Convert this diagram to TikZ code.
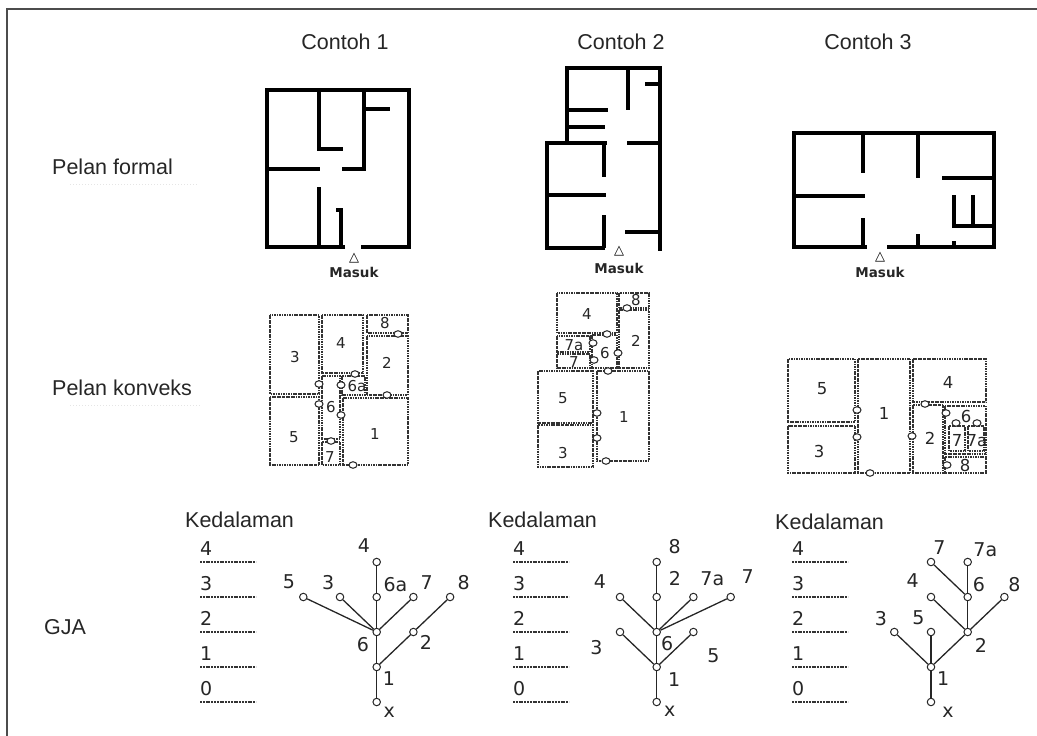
\documentclass[tikz,border=0pt]{standalone}
\usepackage{fontspec}
\setmainfont{Liberation Sans}
\newfontfamily\vfont{DejaVu Sans}
\usetikzlibrary{positioning}
\usetikzlibrary{shapes.geometric}
\tikzset {
  frame/.style = {
    draw = black!70,
    line width = 1.5pt
  },
  ghost/.style = {
    draw = black!10,
    line width = 1pt,
    dotted
  },
  % heading and row texts
  head/.style = {
    text = black!85,
    inner sep = 0,
    font = \fontsize{21.5}{26}\selectfont
  },
  % wall of a formal plan
  wall/.style = {
    draw = black,
    line width = 4pt,
    line join = miter
  },
  entry/.style = {
    inner sep = 0,
    font = \vfont\bfseries\fontsize{13}{13}\selectfont
  },
  masuk/.style = {
    inner sep = 0,
    text = black!85,
    font = \vfont\bfseries\fontsize{13.5}{15}\selectfont
  }
}
\tikzset {
  % convex space
  zone/.style = {
    draw = black!80,
    line width = 1.3pt,
    dash pattern = on 2.5pt off 0.8pt on 1pt off 0.8pt
  },
  zlabel/.style = {
    inner sep = 0,
    text = black!85,
    font = \vfont\fontsize{15}{15}\selectfont
  },
  zlabelbig/.style = {
    zlabel,
    font = \vfont\fontsize{16.5}{17}\selectfont
  },
  % opening between two spaces
  door/.style = {
    draw = black!85,
    fill = white,
    ellipse,
    line width = 1pt,
    minimum width = 8pt,
    minimum height = 6.5pt,
    inner sep = 0
  }
}
\tikzset {
  % justified graph
  gnode/.style = {
    draw = black!85,
    fill = white,
    circle,
    line width = 1pt,
    minimum size = 7.5pt,
    inner sep = 0
  },
  glabel/.style = {
    inner sep = 0,
    text = black!85,
    font = \vfont\fontsize{19}{19}\selectfont
  },
  edge/.style = {
    draw = black!85,
    line width = 1.3pt
  },
  dlabel/.style = {
    glabel
  },
  dline/.style = {
    draw = black!80,
    line width = 2pt,
    dash pattern = on 2pt off 0.8pt
  }
}

\begin{document}
\begin{tikzpicture}[x = 1pt, y = -1pt, node distance = 35pt and 36.7pt, on grid]
  \useasboundingbox (0,0) rectangle (1037,736);
  \draw[frame] (7,736) -- (7,9) -- (1037,9);

  \node[head] (h1) at (345,42) {Contoh 1};
  \node[head] (h2) at (621,42) {Contoh 2};
  \node[head] (h3) at (868,42) {Contoh 3};

  \node[head, anchor = west] (rformal) at (52,167) {Pelan formal};
  \node[head, anchor = west] (rkonveks) at (52,388) {Pelan konveks};
  \node[head, anchor = west] (rgja) at (44,627) {GJA};
  \draw[ghost] (70,184) -- (197,184);
  \draw[ghost] (70,405) -- (200,405);

  % formal plans
  \draw[wall] (345,247) -- (267,247) -- (267,90) -- (409,90) -- (409,247) -- (361,247);
  \draw[wall] (319,90) -- (319,149) -- (343,149);
  \draw[wall] (364,90) -- (364,169) -- (342,169);
  \draw[wall] (364,109) -- (390,109);
  \draw[wall] (267,169) -- (320,169);
  \draw[wall] (319,187) -- (319,247);
  \draw[wall] (336,210) -- (341,210) -- (341,247);
  \node[entry] (f1tri) at (354,258) {△};
  \node[masuk, below = 14pt of f1tri] (f1in) {Masuk};

  \draw[wall] (605,248) -- (547,248) -- (547,143) -- (607,143);
  \draw[wall] (627,143) -- (660,143);
  \draw[wall] (567,143) -- (567,68) -- (660,68) -- (660,251);
  \draw[wall] (604,143) -- (604,177);
  \draw[wall] (547,195) -- (606,195);
  \draw[wall] (604,215) -- (604,248);
  \draw[wall] (625,232) -- (660,232);
  \draw[wall] (628,68) -- (628,110);
  \draw[wall] (645,84) -- (660,84);
  \draw[wall] (567,110) -- (608,110);
  \draw[wall] (567,127) -- (605,127);
  \node[entry] (f2tri) at (619,251) {△};
  \node[masuk, below = 17pt of f2tri] (f2in) {Masuk};

  \draw[wall] (867,247) -- (794,247) -- (794,133) -- (994,133) -- (994,247) -- (887,247);
  \draw[wall] (863,133) -- (863,173);
  \draw[wall] (794,196) -- (865,196);
  \draw[wall] (863,218) -- (863,247);
  \draw[wall] (918,133) -- (918,178);
  \draw[wall] (918,234) -- (918,247);
  \draw[wall] (942,178) -- (994,178);
  \draw[wall] (954,195) -- (954,226) -- (994,226);
  \draw[wall] (973,195) -- (973,226);
  \draw[wall] (954,241) -- (954,247);
  \node[entry] (f3tri) at (880,257) {△};
  \node[masuk, below = 15pt of f3tri] (f3in) {Masuk};

  % convex plans
  \draw[zone] (270,315) rectangle (319,394);
  \draw[zone] (322,315) rectangle (363,373);
  \draw[zone] (367,315) rectangle (408,333);
  \draw[zone] (367,336) rectangle (408,395);
  \draw[zone] (342,376) rectangle (365,395);
  \draw[zone] (322,376) rectangle (340,439);
  \draw[zone] (322,442) rectangle (340,465);
  \draw[zone] (270,397) rectangle (319,465);
  \draw[zone] (343,398) rectangle (408,465);
  \node[zlabel] (c1s3) at (295,357) {3};
  \node[zlabel] (c1s4) at (341,343) {4};
  \node[zlabel] (c1s8) at (385,323) {8};
  \node[zlabel] (c1s2) at (387,363) {2};
  \node[zlabel] (c1s6a) at (357,386) {6a};
  \node[zlabel] (c1s6) at (331,407) {6};
  \node[zlabel] (c1s7) at (330,457) {7};
  \node[zlabel] (c1s5) at (294,437) {5};
  \node[zlabel] (c1s1) at (375,434) {1};
  \node[door] (c1d1) at (319,384) {};
  \node[door] (c1d2) at (319,404) {};
  \node[door] (c1d3) at (341,385) {};
  \node[door] (c1d4) at (355,374) {};
  \node[door] (c1d5) at (341,415) {};
  \node[door] (c1d6) at (387,395) {};
  \node[door] (c1d7) at (398,334) {};
  \node[door] (c1d8) at (331,441) {};
  \node[door] (c1d9) at (353,465) {};

  \draw[zone] (557,293) rectangle (617,333);
  \draw[zone] (619,293) rectangle (649,308);
  \draw[zone] (619,310) rectangle (649,368);
  \draw[zone] (557,336) rectangle (590,352);
  \draw[zone] (557,354) rectangle (590,368);
  \draw[zone] (592,335) rectangle (617,368);
  \draw[zone] (538,371) rectangle (593,423);
  \draw[zone] (538,425) rectangle (593,467);
  \draw[zone] (597,371) rectangle (649,461);
  \node[zlabel] (c2s4) at (587,314) {4};
  \node[zlabel] (c2s8) at (636,300) {8};
  \node[zlabel] (c2s2) at (636,341) {2};
  \node[zlabel] (c2s7a) at (574,345) {7a};
  \node[zlabel] (c2s7) at (574,362) {7};
  \node[zlabel] (c2s6) at (605,353) {6};
  \node[zlabel] (c2s5) at (563,398) {5};
  \node[zlabel] (c2s3) at (563,453) {3};
  \node[zlabel] (c2s1) at (624,417) {1};
  \node[door] (c2d1) at (627,308) {};
  \node[door] (c2d2) at (607,334) {};
  \node[door] (c2d3) at (593,343) {};
  \node[door] (c2d4) at (594,360) {};
  \node[door] (c2d5) at (618,353) {};
  \node[door] (c2d6) at (608,371) {};
  \node[door] (c2d7) at (597,413) {};
  \node[door] (c2d8) at (597,438) {};
  \node[door] (c2d9) at (606,461) {};

  \draw[zone] (788,359) rectangle (855,422);
  \draw[zone] (788,426) rectangle (855,473);
  \draw[zone] (858,359) rectangle (910,473);
  \draw[zone] (913,359) rectangle (986,402);
  \draw[zone] (913,405) rectangle (943,473);
  \draw[zone] (945,406) rectangle (986,454);
  \draw[zone] (949,426) rectangle (965,451);
  \draw[zone] (968,426) rectangle (984,451);
  \draw[zone] (945,457) rectangle (986,473);
  \node[zlabelbig] (c3s5) at (822,389) {5};
  \node[zlabelbig] (c3s3) at (819,451) {3};
  \node[zlabelbig] (c3s1) at (884,413) {1};
  \node[zlabelbig] (c3s4) at (948,382) {4};
  \node[zlabelbig] (c3s2) at (930,438) {2};
  \node[zlabelbig] (c3s6) at (966,416) {6};
  \node[zlabelbig] (c3s7) at (957,440) {7};
  \node[zlabelbig] (c3s7a) at (977,441) {7a};
  \node[zlabelbig] (c3s8) at (965,465) {8};
  \node[door] (c3d1) at (857,410) {};
  \node[door] (c3d2) at (857,437) {};
  \node[door] (c3d3) at (912,436) {};
  \node[door] (c3d4) at (925,404) {};
  \node[door] (c3d5) at (946,413) {};
  \node[door] (c3d6) at (956,423) {};
  \node[door] (c3d7) at (977,423) {};
  \node[door] (c3d8) at (947,465) {};
  \node[door] (c3d9) at (870,473) {};

  % depth scales
  \node[head, anchor = west] (k1) at (185,520) {Kedalaman};
  \node[head, anchor = west] (k2) at (488,520) {Kedalaman};
  \node[head, anchor = west] (k3) at (775,522) {Kedalaman};
  \foreach \c/\xa in {1/200, 2/513, 3/792} {
    \foreach \i in {0,...,4} {
      \node[dlabel, anchor = base west] (dep\c-\i) at ({\xa},{695-35*\i}) {\i};
      \draw[dline] ({\xa},{702-35*\i}) -- ({\xa+56},{702-35*\i});
    }
  }

  % graph 1
  \node[gnode, label = {[glabel, label distance = 4pt]-35:x}] (t1x) at (376.7,702) {};
  \node[gnode, above = of t1x, label = {[glabel, label distance = 3pt]-36:1}] (t1n1) {};
  \node[gnode, above = of t1n1, label = {[glabel, label distance = 5pt]216:6}] (t1n6) {};
  \node[gnode, above right = of t1n1, label = {[glabel, label distance = 3pt]-29:2}] (t1n2) {};
  \node[gnode, above = of t1n6, label = {[glabel, label distance = 4pt]35:6a}] (t1n6a) {};
  \node[gnode, above left = of t1n6, label = {[glabel, label distance = 5pt]128:3}] (t1n3) {};
  \node[gnode, above left = 35pt and 73.4pt of t1n6, label = {[glabel, label distance = 7pt]137:5}] (t1n5) {};
  \node[gnode, above right = of t1n6, label = {[glabel, label distance = 6pt]47:7}] (t1n7) {};
  \node[gnode, above right = of t1n2, label = {[glabel, label distance = 6pt]44:8}] (t1n8) {};
  \node[gnode, above = of t1n6a, label = {[glabel, label distance = 7pt]126:4}] (t1n4) {};
  \draw[edge] (t1x) -- (t1n1);
  \draw[edge] (t1n1) -- (t1n6);
  \draw[edge] (t1n1) -- (t1n2);
  \draw[edge] (t1n6) -- (t1n5);
  \draw[edge] (t1n6) -- (t1n3);
  \draw[edge] (t1n6) -- (t1n6a);
  \draw[edge] (t1n6) -- (t1n7);
  \draw[edge] (t1n2) -- (t1n8);
  \draw[edge] (t1n6a) -- (t1n4);

  % graph 2
  \node[gnode, label = {[glabel, label distance = 4pt]-28:x}] (t2x) at (656.7,702) {};
  \node[gnode, above = of t2x, label = {[glabel, label distance = 8pt]-25:1}] (t2n1) {};
  \node[gnode, above left = of t2n1, label = {[glabel, label distance = 15pt]205:3}] (t2n3) {};
  \node[gnode, above = of t2n1, label = {[glabel, label distance = 2pt]-48:6}] (t2n6) {};
  \node[gnode, above right = of t2n1, label = {[glabel, label distance = 17pt]-50:5}] (t2n5) {};
  \node[gnode, above left = of t2n6, label = {[glabel, label distance = 12pt]149:4}] (t2n4) {};
  \node[gnode, above = of t2n6, label = {[glabel, label distance = 12pt]42:2}] (t2n2) {};
  \node[gnode, above right = of t2n6, label = {[glabel, label distance = 9pt]59:7a}] (t2n7a) {};
  \node[gnode, above right = 35pt and 74pt of t2n6, label = {[glabel, label distance = 13pt]52:7}] (t2n7) {};
  \node[gnode, above = of t2n2, label = {[glabel, label distance = 10pt]35:8}] (t2n8) {};
  \draw[edge] (t2x) -- (t2n1);
  \draw[edge] (t2n1) -- (t2n3);
  \draw[edge] (t2n1) -- (t2n6);
  \draw[edge] (t2n1) -- (t2n5);
  \draw[edge] (t2n6) -- (t2n4);
  \draw[edge] (t2n6) -- (t2n2);
  \draw[edge] (t2n6) -- (t2n7a);
  \draw[edge] (t2n6) -- (t2n7);
  \draw[edge] (t2n2) -- (t2n8);

  % graph 3
  \node[gnode, label = {[glabel, label distance = 8pt]-25:x}] (t3x) at (931,702) {};
  \node[gnode, above = of t3x, label = {[glabel, label distance = 3pt]-36:1}] (t3n1) {};
  \node[gnode, above left = of t3n1, label = {[glabel, label distance = 5pt]141:3}] (t3n3) {};
  \node[gnode, above = of t3n1, label = {[glabel, label distance = 5pt]133:5}] (t3n5) {};
  \node[gnode, above right = of t3n1, label = {[glabel, label distance = 5pt]-41:2}] (t3n2) {};
  \node[gnode, above left = of t3n2, label = {[glabel, label distance = 11pt]143:4}] (t3n4) {};
  \node[gnode, above = of t3n2, label = {[glabel, label distance = 3pt]48:6}] (t3n6) {};
  \node[gnode, above right = of t3n2, label = {[glabel, label distance = 2pt]53:8}] (t3n8) {};
  \node[gnode, above left = of t3n6, label = {[glabel, label distance = 3pt]73:7}] (t3n7) {};
  \node[gnode, above = of t3n6, label = {[glabel, label distance = 3pt]40:7a}] (t3n7a) {};
  \draw[edge] (t3x) -- (t3n1);
  \draw[edge] (t3n1) -- (t3n3);
  \draw[edge] (t3n1) -- (t3n5);
  \draw[edge] (t3n1) -- (t3n2);
  \draw[edge] (t3n2) -- (t3n4);
  \draw[edge] (t3n2) -- (t3n6);
  \draw[edge] (t3n2) -- (t3n8);
  \draw[edge] (t3n6) -- (t3n7);
  \draw[edge] (t3n6) -- (t3n7a);
\end{tikzpicture}
\end{document}
